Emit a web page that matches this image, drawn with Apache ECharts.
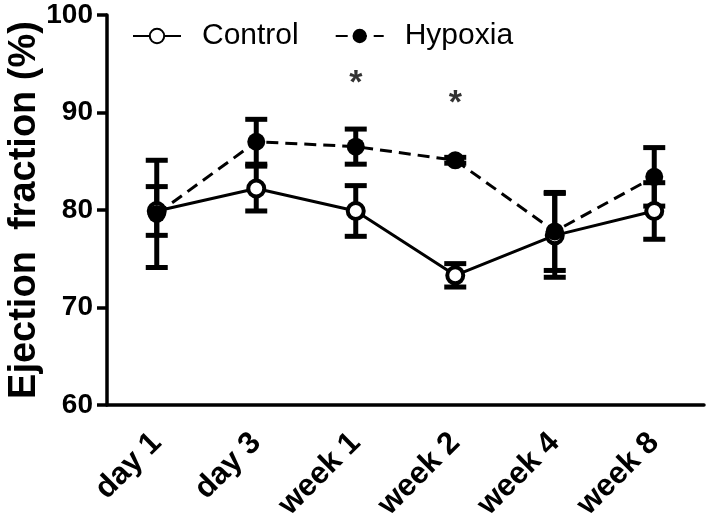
<!DOCTYPE html>
<html>
<head>
<meta charset="utf-8">
<script src="https://cdn.jsdelivr.net/npm/echarts@6/dist/echarts.min.js"></script>
<style>html,body{margin:0;padding:0;background:#fff;}#c{width:709px;height:516px;}</style>
</head>
<body>
<div id="c"></div>
<script>
var categories = ['day 1', 'day 3', 'week 1', 'week 2', 'week 4', 'week 8'];
var controlMean = [79.9, 82.2, 79.9, 73.3, 77.4, 79.9];
var controlErr  = [2.5, 2.3, 2.6, 1.2, 4.3, 2.9];
var hypoxiaMean = [79.6, 87.0, 86.5, 85.1, 77.8, 83.4];
var hypoxiaErr  = [5.5, 2.3, 1.8, 0.3, 4.0, 3.0];
var starCategories = ['week 1', 'week 2'];
var starValues = [93.4, 91.3];
var yTicks = [60, 70, 80, 90, 100];

var FONT = '"Liberation Sans", Arial, Helvetica, sans-serif';

function errData(mean, err) {
  return mean.map(function (m, i) { return [i, m - err[i], m + err[i]]; });
}
function errRender(params, api) {
  var i = api.value(0);
  var lo = api.coord([i, api.value(1)]);
  var hi = api.coord([i, api.value(2)]);
  var hw = 11;
  var st = { stroke: '#000', lineWidth: 5 };
  return {
    type: 'group',
    children: [
      { type: 'line', shape: { x1: lo[0], y1: lo[1], x2: hi[0], y2: hi[1] }, style: st },
      { type: 'line', shape: { x1: hi[0] - hw, y1: hi[1], x2: hi[0] + hw, y2: hi[1] }, style: st },
      { type: 'line', shape: { x1: lo[0] - hw, y1: lo[1], x2: lo[0] + hw, y2: lo[1] }, style: st }
    ]
  };
}

var chart = echarts.init(document.getElementById('c'), null, { renderer: 'canvas' });
chart.setOption({
  animation: false,
  backgroundColor: '#fff',
  textStyle: { fontFamily: FONT, color: '#000' },
  grid: { left: 107, right: 5, top: 15, bottom: 111, containLabel: false, outerBoundsMode: 'none' },
  legend: {
    data: ['Control', 'Hypoxia'],
    left: 127,
    top: 16,
    itemWidth: 48,
    itemHeight: 18,
    itemGap: 36,
    textStyle: { fontFamily: FONT, fontSize: 30, color: '#000', padding: [0, 0, 0, 16] }
  },
  xAxis: {
    type: 'category',
    data: categories,
    boundaryGap: true,
    axisLine: { lineStyle: { color: '#000', width: 3.5 } },
    axisTick: { alignWithLabel: true, length: 12, lineStyle: { color: '#000', width: 3.5 } },
    axisLabel: { rotate: 45, margin: 33, color: '#000', fontFamily: FONT, fontWeight: 'bold', fontSize: 31, interval: 0 },
    splitLine: { show: false }
  },
  yAxis: {
    type: 'value',
    min: yTicks[0],
    max: yTicks[yTicks.length - 1],
    interval: 10,
    name: 'Ejection  fraction (%)',
    nameLocation: 'middle',
    nameGap: 63,
    nameMoveOverlap: false,
    nameTextStyle: { fontFamily: FONT, fontWeight: 'bold', fontSize: 38, color: '#000' },
    axisLine: { show: true, lineStyle: { color: '#000', width: 3.5 } },
    axisTick: { show: true, length: 10, lineStyle: { color: '#000', width: 3.5 } },
    axisLabel: { margin: 14, color: '#000', fontFamily: FONT, fontWeight: 'bold', fontSize: 28 },
    splitLine: { show: false }
  },
  series: [
    {
      name: 'ControlErr', type: 'custom', renderItem: errRender,
      data: errData(controlMean, controlErr), z: 1, silent: true,
      encode: { x: 0, y: [1, 2] }
    },
    {
      name: 'HypoxiaErr', type: 'custom', renderItem: errRender,
      data: errData(hypoxiaMean, hypoxiaErr), z: 1, silent: true,
      encode: { x: 0, y: [1, 2] }
    },
    {
      name: 'Control', type: 'line', data: controlMean, z: 3,
      symbol: 'circle', symbolSize: 16,
      lineStyle: { color: '#000', width: 3 },
      itemStyle: { color: '#fff', borderColor: '#000', borderWidth: 4 }
    },
    {
      name: 'Hypoxia', type: 'line', data: hypoxiaMean, z: 4,
      symbol: 'circle', symbolSize: 18,
      lineStyle: { color: '#000', width: 3, type: [12, 7] },
      itemStyle: { color: '#000', borderColor: '#000', borderWidth: 0 }
    },
    {
      name: 'Stars', type: 'scatter', z: 5, silent: true,
      data: starCategories.map(function (c, i) { return [c, starValues[i]]; }),
      symbolSize: 1, itemStyle: { color: 'rgba(0,0,0,0)' },
      label: { show: true, position: 'inside', formatter: '*', color: '#000', fontFamily: FONT, fontWeight: 'bold', fontSize: 34, offset: [0, 4] }
    }
  ]
});
</script>
</body>
</html>
